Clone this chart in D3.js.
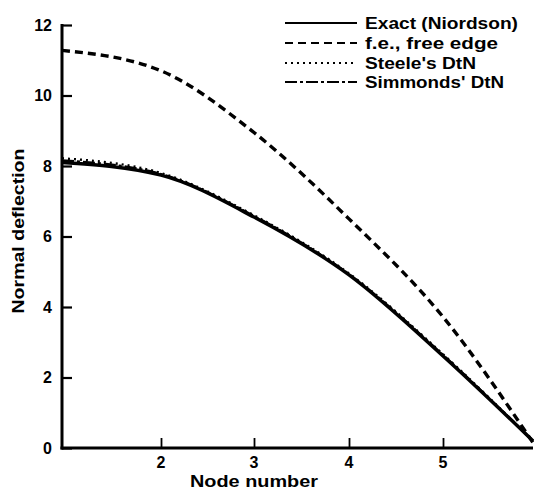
<!DOCTYPE html>
<html>
<head>
<meta charset="utf-8">
<script src="https://cdn.jsdelivr.net/npm/d3@7"></script>
<style>
  html, body { margin: 0; padding: 0; background: #fff; }
  svg { display: block; }
  text { font-family: "Liberation Sans", Arial, sans-serif; fill: #000; }
</style>
</head>
<body>
<svg id="chart" width="534" height="491"></svg>
<script>
// ---- data ----
const nodes = [1, 2, 3, 4, 5, 6];
const exact = [8.10, 7.74, 6.55, 4.91, 2.61, 0.20];
const freeEdge = [11.28, 10.70, 8.95, 6.50, 3.72, 0.15];
const steele = [8.22, 7.80, 6.60, 4.95, 2.66, 0.20];
const simmonds = [8.16, 7.77, 6.58, 4.93, 2.64, 0.20];
const seriesNames = ["Exact (Niordson)", "f.e., free edge", "Steele's DtN", "Simmonds' DtN"];
const xTicks = [2, 3, 4, 5];
const yTicks = [0, 2, 4, 6, 8, 10, 12];
const xTitle = "Node number";
const yTitle = "Normal deflection";

// ---- layout ----
const svg = d3.select("#chart");
const x = d3.scaleLinear().domain([1, 2, 3, 4, 5, 6]).range([62, 161, 254, 349, 443, 533]);
const y = d3.scaleLinear().domain([0, 12]).range([448, 25]);

const styles = [
  { dash: null, width: 3.4 },
  { dash: "8,5", width: 3.4 },
  { dash: "2,4", width: 2.4 },
  { dash: "12,3,3,3", width: 2.4 }
];
const allSeries = [exact, freeEdge, steele, simmonds];

const line = d3.line()
  .x((d, i) => x(nodes[i]))
  .y(d => y(d))
  .curve(d3.curveMonotoneX);

// curves
const g = svg.append("g");
allSeries.forEach((s, k) => {
  g.append("path")
    .attr("d", line(s))
    .attr("fill", "none")
    .attr("stroke", "#000")
    .attr("stroke-width", styles[k].width)
    .attr("stroke-dasharray", styles[k].dash)
    .attr("stroke-linecap", "butt");
});

// y axis
const yAxis = d3.axisRight(y).tickValues(yTicks).tickSize(10).tickFormat("");
const ya = svg.append("g").attr("transform", `translate(${x(1)},0)`).call(yAxis);
ya.select(".domain").remove();
ya.selectAll(".tick line").attr("stroke", "#000").attr("stroke-width", 2.2);
svg.append("line").attr("x1", x(1)).attr("x2", x(1)).attr("y1", y(12) - 1).attr("y2", y(0) + 1.5)
  .attr("stroke", "#000").attr("stroke-width", 3);
svg.append("g").selectAll("text").data(yTicks).join("text")
  .attr("x", 52).attr("y", d => y(d)).attr("dy", "0.35em")
  .attr("text-anchor", "end").attr("font-size", 16).attr("font-weight", "bold")
  .text(d => d);

// x axis
const xAxis = d3.axisTop(x).tickValues(xTicks).tickSize(10).tickFormat("");
const xa = svg.append("g").attr("transform", `translate(0,${y(0)})`).call(xAxis);
xa.select(".domain").remove();
xa.selectAll(".tick line").attr("stroke", "#000").attr("stroke-width", 1.8);
svg.append("line").attr("x1", x(1) - 1.5).attr("x2", x(6)).attr("y1", y(0)).attr("y2", y(0))
  .attr("stroke", "#000").attr("stroke-width", 3);
svg.append("g").selectAll("text").data(xTicks).join("text")
  .attr("x", d => x(d)).attr("y", 468)
  .attr("text-anchor", "middle").attr("font-size", 16).attr("font-weight", "bold")
  .text(d => d);

// axis titles
svg.append("text").attr("x", 254).attr("y", 487)
  .attr("text-anchor", "middle").attr("font-size", 17).attr("font-weight", "bold")
  .attr("textLength", 128).attr("lengthAdjust", "spacingAndGlyphs")
  .text(xTitle);
svg.append("text").attr("transform", "translate(24,231) rotate(-90)")
  .attr("text-anchor", "middle").attr("font-size", 17).attr("font-weight", "bold")
  .attr("textLength", 165).attr("lengthAdjust", "spacingAndGlyphs")
  .text(yTitle);

// legend
const legendY = [23, 43, 63, 82];
const legendWidths = [153, 133, 111, 139];
const leg = svg.append("g");
seriesNames.forEach((name, k) => {
  leg.append("line").attr("x1", 285).attr("x2", 357)
    .attr("y1", legendY[k]).attr("y2", legendY[k])
    .attr("stroke", "#000").attr("stroke-width", 2.2)
    .attr("stroke-dasharray", styles[k].dash);
  leg.append("text").attr("x", 365).attr("y", legendY[k]).attr("dy", "0.35em")
    .attr("font-size", 16.5).attr("font-weight", "bold")
    .attr("textLength", legendWidths[k]).attr("lengthAdjust", "spacingAndGlyphs")
    .text(name);
});
</script>
</body>
</html>
